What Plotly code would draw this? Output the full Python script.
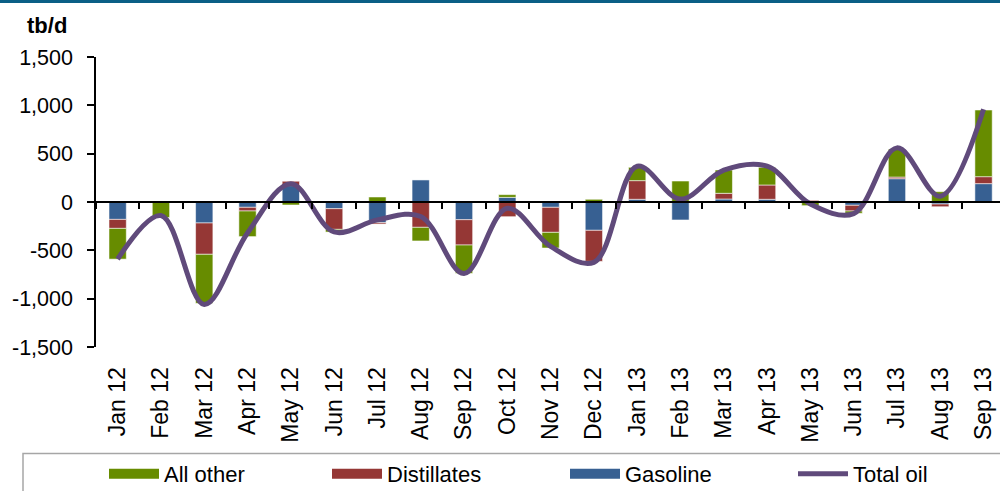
import plotly.graph_objects as go

months = ["Jan 12", "Feb 12", "Mar 12", "Apr 12", "May 12", "Jun 12", "Jul 12",
          "Aug 12", "Sep 12", "Oct 12", "Nov 12", "Dec 12", "Jan 13", "Feb 13",
          "Mar 13", "Apr 13", "May 13", "Jun 13", "Jul 13", "Aug 13", "Sep 13"]
gasoline = [-180, 0, -217, -55, 170, -69, -214, 228, -183, 48, -55, -293,
            28, -186, 31, 28, 0, -34, 241, -21, 190]
distillates = [-93, 0, -324, -38, 45, -214, -14, -262, -262, -152, -259, -321,
               193, 0, 59, 148, 17, -59, 17, -28, 72]
all_other = [-318, -160, -507, -265, -31, -28, 52, -141, -293, 28, -162, 28,
             138, 217, 241, 183, -38, -24, 290, 107, 690]
total_oil = [-590, -140, -1060, -320, 190, -310, -185, -150, -740, -65, -460, -625,
             370, 30, 330, 370, -20, -120, 560, 60, 960]
y_ticks = [-1500, -1000, -500, 0, 500, 1000, 1500]
y_tick_labels = ["-1,500", "-1,000", "-500", "0", "500", "1,000", "1,500"]

GREEN = "#678C00"
RED = "#953735"
BLUE = "#376092"
PURPLE = "#604A7B"
FONT = "Liberation Sans, Arial, sans-serif"

# plot-area geometry in pixels (for placing decorations)
L, T, W, H = 96, 57, 904, 290


def px_x(px):
    return (px - L) / W


def px_y(py):
    return (T + H - py) / H


fig = go.Figure()
for name, vals, col in [("Gasoline", gasoline, BLUE),
                        ("Distillates", distillates, RED),
                        ("All other", all_other, GREEN)]:
    fig.add_bar(x=months, y=vals, name=name, showlegend=False,
                marker=dict(color=col, line=dict(color="rgba(255,255,255,0.55)", width=1)))

# legend proxies (wide rectangles like the original)
for name, col, lg in [("All other", GREEN, "legend"), ("Distillates", RED, "legend2"),
                      ("Gasoline", BLUE, "legend3")]:
    fig.add_scatter(x=[None], y=[None], mode="lines", name=name, legend=lg,
                    line=dict(color=col, width=11), hoverinfo="skip")

fig.add_scatter(x=months, y=total_oil, mode="lines", name="Total oil", xaxis="x2",
                legend="legend4",
                line=dict(color=PURPLE, width=5, shape="spline", smoothing=1))


def leg(sym_px):
    return dict(orientation="h", x=px_x(sym_px - 6), xanchor="left",
                y=px_y(474), yanchor="middle", font=dict(size=22), itemwidth=50,
                bgcolor="rgba(0,0,0,0)")


xrange = [-0.5, 20.38]
fig.update_layout(
    width=1000, height=491,
    margin=dict(l=L, r=1000 - L - W, t=T, b=491 - T - H, autoexpand=False),
    paper_bgcolor="white", plot_bgcolor="white",
    font=dict(family=FONT, color="black", size=21),
    barmode="relative", bargap=0.6,
    showlegend=True,
    legend=leg(110), legend2=leg(333), legend3=leg(571), legend4=leg(799),
    xaxis=dict(type="category", categoryorder="array", categoryarray=months,
               range=xrange, showline=False, showgrid=False, zeroline=False,
               automargin=False,
               ticks="outside", ticklen=10, tickcolor="rgba(0,0,0,0)",
               tickangle=-90, tickfont=dict(size=23)),
    xaxis2=dict(type="category", categoryorder="array", categoryarray=months,
                range=xrange, overlaying="x", anchor="free", position=0.5, side="bottom",
                showline=True, linecolor="black", linewidth=2, automargin=False,
                ticks="outside", tickson="boundaries", ticklen=6, tickwidth=2,
                tickcolor="black", showticklabels=False, showgrid=False, zeroline=False),
    yaxis=dict(range=[-1500, 1500], tickvals=y_ticks, ticktext=y_tick_labels,
               showline=True, linecolor="black", linewidth=1.5, automargin=False,
               ticks="outside", ticklen=7, tickwidth=1.5, tickcolor="black",
               ticklabelstandoff=10,
               showgrid=False, zeroline=False, tickfont=dict(size=21.5)),
    shapes=[
        dict(type="rect", xref="paper", yref="paper", x0=-0.2, x1=1.2,
             y0=px_y(3), y1=px_y(-10),
             fillcolor="#0B5F86", line=dict(width=0), layer="above"),
        dict(type="rect", xref="paper", yref="paper", x0=px_x(23), x1=px_x(1010),
             y0=px_y(500), y1=px_y(453.5), fillcolor="rgba(0,0,0,0)",
             line=dict(color="#A6A6A6", width=1.5)),
    ],
    annotations=[
        dict(text="<b>tb/d</b>", xref="paper", yref="paper", x=px_x(25), y=px_y(25),
             xanchor="left", yanchor="middle", showarrow=False, font=dict(size=22)),
    ],
)

fig.write_html("out.html", config={"displayModeBar": False},
               post_script="document.body.style.margin='0';document.body.style.overflow='hidden';")
